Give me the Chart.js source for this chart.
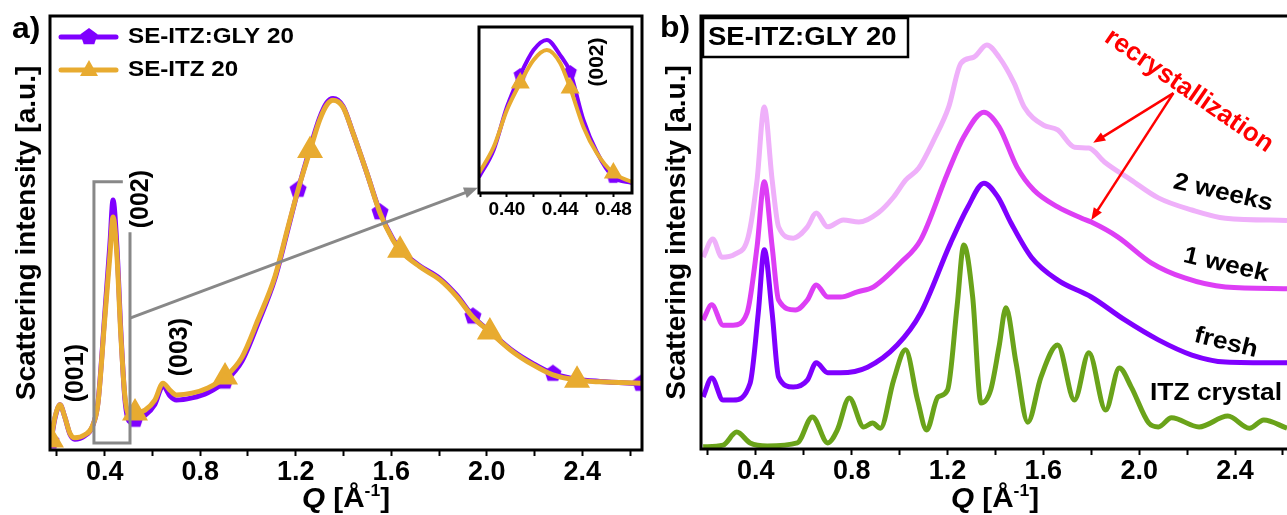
<!DOCTYPE html>
<html>
<head>
<meta charset="utf-8">
<script src="https://cdn.jsdelivr.net/npm/chart.js@4.4.1/dist/chart.umd.min.js"></script>
<style>
  body { margin: 0; background: #fff; }
  #wrap { position: relative; width: 1287px; height: 515px; overflow: hidden; background: #fff; }
  canvas { position: absolute; }
</style>
</head>
<body>
<div id="wrap">
  <canvas id="chartA" width="650" height="515" style="left:0;top:0"></canvas>
  <canvas id="chartB" width="637" height="515" style="left:650px;top:0"></canvas>
  <canvas id="inset" width="170" height="205" style="left:470px;top:20px"></canvas>
</div>
<script>
// ---- panel a: SE-ITZ:GLY 20 vs SE-ITZ 20 ----
const qA = [0.175, 0.192, 0.213, 0.233, 0.254, 0.275, 0.317, 0.347, 0.372, 0.40, 0.422, 0.435, 0.451, 0.468,
  0.485, 0.506, 0.527, 0.569, 0.61, 0.644, 0.673, 0.70, 0.765, 0.832, 0.904, 0.975, 1.042, 1.113, 1.168, 1.21,
  1.26, 1.30, 1.33, 1.356, 1.398, 1.44, 1.498, 1.553, 1.607, 1.637, 1.72, 1.804, 1.875, 1.942, 2.013, 2.11,
  2.194, 2.277, 2.378, 2.474, 2.645];
const itz20 = [2.3, 7.6, 10.4, 7.6, 3.9, 2.8, 3.5, 5.3, 10.8, 30, 45, 53.7, 45, 26,
  12.2, 8, 8.5, 9.2, 11.5, 15.4, 13.8, 12.7, 13.1, 14.3, 16.8, 21.4, 30, 40, 51.4, 60,
  69, 76, 79.5, 80.6, 79, 73, 63.8, 54.6, 48.4, 46, 42.2, 39.2, 35.3, 30.6, 27.2, 22.6,
  19.6, 17.3, 16.1, 15.7, 15.4];
const gly20 = [2.0, 7.4, 10.4, 7.6, 3.7, 2.5, 3.3, 5.2, 11, 31, 47.5, 57.6, 47, 27,
  11.5, 6.5, 7, 8, 10.5, 14.8, 12.5, 11.5, 12, 13.2, 15.8, 20.5, 29.2, 39.5, 51, 60,
  69.5, 76.5, 80, 81, 79.2, 73, 63.8, 54.8, 48.6, 46.2, 42.4, 39.5, 35.6, 30.8, 27.3, 22.8,
  19.9, 17.6, 16.3, 15.8, 15.3];
const glyMarks = [0, 16, 24, 29, 37, 43, 47, 50];
const itzMarks = [0, 16, 24, 30, 39, 44, 48];

// inset, (002) peak
const qInset = [0.379, 0.39, 0.40, 0.41, 0.42, 0.43, 0.44, 0.4475, 0.4575, 0.4675, 0.48, 0.494];
const itzInset = [12.0, 27.7, 50.0, 66.3, 80.1, 86.1, 78.3, 63.3, 39.8, 24.1, 12.0, 6.6];
const glyInset = [9.6, 25.9, 51.8, 71.1, 86.1, 92.2, 83.1, 72.9, 44.0, 24.7, 9.6, 6.0];
const insetMarks = [3, 7, 10];

// ---- panel b: SE-ITZ:GLY 20 ageing ----
const qCrystal = [0.18, 0.263, 0.32, 0.376, 0.447, 0.573, 0.636, 0.70, 0.74, 0.79, 0.85, 0.887, 0.92, 0.975,
  1.025, 1.075, 1.113, 1.16, 1.20, 1.24, 1.268, 1.305, 1.34, 1.38, 1.415, 1.444, 1.486, 1.535, 1.59, 1.66,
  1.73, 1.79, 1.86, 1.917, 1.967, 2.04, 2.08, 2.135, 2.25, 2.37, 2.46, 2.52, 2.617];
const crystal = [0.5, 0.9, 3.9, 1.4, 0.7, 1.4, 7.4, 1.4, 4.4, 11.8, 5.1, 6.0, 4.8, 15.9,
  22.9, 11.3, 4.4, 12.0, 13.6, 33, 47.1, 35.1, 10.6, 13.6, 23.6, 32.6, 19.9, 6.2, 16.6, 24.0,
  11.3, 22.2, 9.0, 18.7, 14.3, 6.0, 5.1, 7.2, 5.1, 7.6, 4.8, 6.7, 4.8];
const qFresh = [0.18, 0.216, 0.263, 0.305, 0.376, 0.41, 0.435, 0.468, 0.495, 0.556, 0.615, 0.652, 0.70, 0.753,
  0.866, 0.99, 1.088, 1.213, 1.285, 1.352, 1.41, 1.465, 1.55, 1.66, 1.80, 1.94, 2.08, 2.22, 2.36, 2.617];
const fresh = [12.0, 16.4, 11.3, 11.3, 15.2, 31.4, 46.0, 31.4, 16.6, 14.3, 15.9, 19.9, 17.6, 17.6,
  18.9, 24.0, 31.4, 47.6, 55.9, 61.4, 58.2, 52.2, 44.3, 39.0, 35.1, 29.8, 25.2, 21.7, 20.1, 19.9];
const qWeek1 = [0.18, 0.216, 0.263, 0.305, 0.363, 0.405, 0.435, 0.468, 0.495, 0.565, 0.615, 0.652, 0.70, 0.753,
  0.824, 0.89, 1.004, 1.088, 1.20, 1.268, 1.352, 1.415, 1.49, 1.56, 1.66, 1.76, 1.80, 1.91, 2.05, 2.19, 2.36, 2.617];
const week1 = [29.8, 33.3, 28.6, 28.6, 31.4, 46.7, 61.7, 46.7, 34.4, 32.1, 34.4, 37.9, 35.1, 35.1,
  36.3, 37.4, 43.0, 48.3, 63.7, 72.1, 77.8, 74.4, 65.1, 59.8, 55.9, 53.3, 52.4, 49.0, 43.0, 39.5, 37.4, 37.0];
const qWeek2 = [0.18, 0.22, 0.258, 0.313, 0.368, 0.405, 0.435, 0.468, 0.495, 0.556, 0.615, 0.652, 0.70, 0.765,
  0.83, 0.91, 0.975, 1.025, 1.08, 1.143, 1.205, 1.256, 1.31, 1.364, 1.415, 1.478, 1.52, 1.60, 1.66, 1.73,
  1.79, 1.855, 1.967, 2.08, 2.22, 2.36, 2.617];
const week2 = [44.3, 48.5, 44.3, 45.0, 49.0, 62.1, 79.0, 62.1, 51.3, 48.7, 51.3, 54.5, 51.3, 52.9,
  52.4, 54.5, 58.2, 62.1, 64.9, 71.4, 79.0, 89.1, 90.5, 93.3, 90.5, 84.5, 79.0, 74.8, 73.7, 69.7,
  69.5, 66.3, 62.1, 58.0, 55.2, 53.3, 52.8];

const majorQ = [0.4, 0.8, 1.2, 1.6, 2.0, 2.4];
const majorInset = [0.40, 0.44, 0.48];

const PURPLE = '#7f00ff', ORANGE = '#e8ab30';
const FONT = '"Liberation Sans", Arial, sans-serif';
Chart.defaults.font.family = FONT;
Chart.defaults.color = '#000';

function pentagon(color, r) {
  const c = document.createElement('canvas');
  c.width = c.height = 2 * r + 2;
  const g = c.getContext('2d');
  g.fillStyle = color;
  g.beginPath();
  for (let i = 0; i < 5; i++) {
    const a = -Math.PI / 2 + i * 2 * Math.PI / 5;
    g.lineTo(r + 1 + r * Math.cos(a), r + 1 + r * Math.sin(a));
  }
  g.closePath();
  g.fill();
  return c;
}
const pentBig = pentagon(PURPLE, 9), pentSmall = pentagon(PURPLE, 7);

const pts = (xs, ys) => xs.map((x, i) => ({ x, y: ys[i] }));

// text helper, sx stretches horizontally a little like the source image
function txt(ctx, s, x, y, size, o = {}) {
  ctx.save();
  ctx.translate(x, y);
  if (o.rot) ctx.rotate(o.rot * Math.PI / 180);
  ctx.scale(o.sx || 1, 1);
  ctx.font = (o.style || '') + ' bold ' + size + 'px ' + FONT;
  ctx.fillStyle = o.color || '#000';
  ctx.textAlign = o.align || 'left';
  ctx.textBaseline = o.base || 'middle';
  ctx.fillText(s, 0, 0);
  ctx.restore();
}

function arrow(ctx, x1, y1, x2, y2, color, w, head) {
  const a = Math.atan2(y2 - y1, x2 - x1);
  ctx.save();
  ctx.strokeStyle = color; ctx.fillStyle = color; ctx.lineWidth = w;
  ctx.beginPath();
  ctx.moveTo(x1, y1);
  ctx.lineTo(x2 - head * 0.7 * Math.cos(a), y2 - head * 0.7 * Math.sin(a));
  ctx.stroke();
  ctx.beginPath();
  ctx.moveTo(x2, y2);
  ctx.lineTo(x2 - head * Math.cos(a - 0.38), y2 - head * Math.sin(a - 0.38));
  ctx.lineTo(x2 - head * Math.cos(a + 0.38), y2 - head * Math.sin(a + 0.38));
  ctx.closePath();
  ctx.fill();
  ctx.restore();
}

// x axis title: Q [Å^-1]
function qTitle(ctx, cx, base) {
  const sx = 1.1;
  const parts = [['Q', 'italic bold 27px', 0], [' [Å', 'bold 27px', 0], ['-1', 'bold 16px', -11], [']', 'bold 27px', 0]];
  ctx.save();
  let total = 0;
  parts.forEach(p => { ctx.font = p[1] + ' ' + FONT; total += ctx.measureText(p[0]).width; });
  let x = cx - total * sx / 2;
  ctx.fillStyle = '#000';
  ctx.textBaseline = 'alphabetic';
  parts.forEach(p => {
    ctx.font = p[1] + ' ' + FONT;
    const w = ctx.measureText(p[0]).width;
    ctx.save(); ctx.translate(x, base + p[2]); ctx.scale(sx, 1); ctx.fillText(p[0], 0, 0); ctx.restore();
    x += w * sx;
  });
  ctx.restore();
}

function xAxis(min, max, step, majors, digits, size, tickLen, pad, height) {
  return {
    type: 'linear', min, max,
    ticks: {
      stepSize: step, includeBounds: false, autoSkip: false, maxRotation: 0, padding: pad, maxTicksLimit: 30,
      font: { size, weight: 'bold' }, color: '#000',
      callback: v => {
        const m = majors.find(t => Math.abs(t - v) < 1e-6);
        return m === undefined ? '' : m.toFixed(digits);
      }
    },
    grid: { drawOnChartArea: false, tickLength: tickLen, tickWidth: 2, tickColor: '#000' },
    border: { display: false },
    afterFit: s => { s.height = height; s.paddingLeft = 0; s.paddingRight = 0; }
  };
}

function yAxis(width, title, titlePad) {
  return {
    min: 0, max: 100,
    ticks: { display: false },
    grid: { display: false },
    border: { display: false },
    title: title ? { display: true, text: title, font: { size: 28, weight: 'bold' }, padding: { top: titlePad, bottom: 0 } } : { display: false },
    afterFit: s => { s.width = width; }
  };
}

const lineDs = (label, data, color, width, extra) => Object.assign({
  label, data, borderColor: color, backgroundColor: color, borderWidth: width,
  cubicInterpolationMode: 'monotone', pointRadius: 0, pointHoverRadius: 0
}, extra || {});

const common = {
  responsive: false, animation: false, devicePixelRatio: 1,
  plugins: { legend: { display: false }, tooltip: { enabled: false } }
};

// ---------- panel a ----------
const decorA = {
  id: 'decorA',
  afterDraw(chart) {
    const { ctx, chartArea: a, scales: { x, y } } = chart;
    ctx.save();
    // gray zoom box and arrow to the inset
    ctx.strokeStyle = '#888'; ctx.lineWidth = 3;
    ctx.beginPath();
    ctx.moveTo(x.getPixelForValue(0.476), y.getPixelForValue(61.8));
    ctx.lineTo(x.getPixelForValue(0.355), y.getPixelForValue(61.8));
    ctx.lineTo(x.getPixelForValue(0.355), y.getPixelForValue(1.6));
    ctx.lineTo(x.getPixelForValue(0.506), y.getPixelForValue(1.6));
    ctx.lineTo(x.getPixelForValue(0.506), y.getPixelForValue(50.2));
    ctx.stroke();
    arrow(ctx, x.getPixelForValue(0.506), y.getPixelForValue(30.4), x.getPixelForValue(1.963), y.getPixelForValue(60.4), '#888', 3, 15);
    // frame
    ctx.strokeStyle = '#000'; ctx.lineWidth = 3;
    ctx.strokeRect(a.left, a.top, a.right - a.left, a.bottom - a.top);
    // peak labels
    txt(ctx, '(001)', x.getPixelForValue(0.28), y.getPixelForValue(17.7), 25, { rot: -90, align: 'center' });
    txt(ctx, '(002)', x.getPixelForValue(0.552), y.getPixelForValue(57.8), 25, { rot: -90, align: 'center' });
    txt(ctx, '(003)', x.getPixelForValue(0.715), y.getPixelForValue(23.7), 25, { rot: -90, align: 'center' });
    // legend
    ctx.lineWidth = 5; ctx.lineCap = 'round';
    ctx.strokeStyle = PURPLE;
    ctx.beginPath(); ctx.moveTo(61, 37); ctx.lineTo(116, 37); ctx.stroke();
    ctx.drawImage(pentBig, 89 - pentBig.width / 2, 37 - pentBig.height / 2);
    ctx.strokeStyle = ORANGE;
    ctx.beginPath(); ctx.moveTo(61, 70); ctx.lineTo(116, 70); ctx.stroke();
    ctx.fillStyle = ORANGE;
    ctx.beginPath(); ctx.moveTo(89, 60); ctx.lineTo(98, 76); ctx.lineTo(80, 76); ctx.closePath(); ctx.fill();
    txt(ctx, 'SE-ITZ:GLY 20', 128, 37, 22, { sx: 1.1 });
    txt(ctx, 'SE-ITZ 20', 128, 70, 22, { sx: 1.1 });
    txt(ctx, 'a)', 12, 38, 29, { sx: 1.1, base: 'alphabetic' });
    qTitle(ctx, (a.left + a.right) / 2, 507);
    ctx.restore();
  }
};

new Chart(document.getElementById('chartA'), {
  type: 'line',
  data: {
    datasets: [
      lineDs('SE-ITZ 20', pts(qA, itz20), ORANGE, 5, {
        pointStyle: 'triangle', pointRadius: c => itzMarks.includes(c.dataIndex) ? 10 : 0
      }),
      lineDs('SE-ITZ:GLY 20', pts(qA, gly20), PURPLE, 5, {
        pointStyle: pentBig, pointRadius: c => glyMarks.includes(c.dataIndex) ? 9 : 0
      })
    ]
  },
  options: Object.assign({}, common, {
    layout: { padding: { left: 0, top: 16, right: 8, bottom: 0 }, autoPadding: false },
    scales: {
      x: xAxis(0.171, 2.65, 0.2, majorQ, 1, 27, 6, 0, 65),
      y: yAxis(50, 'Scattering intensity [a.u.]', 10)
    }
  }),
  plugins: [decorA]
});

// ---------- inset ----------
const decorInset = {
  id: 'decorInset',
  beforeDraw(chart) {
    const { ctx, chartArea: a } = chart;
    ctx.save(); ctx.fillStyle = '#fff';
    ctx.fillRect(a.left, a.top, a.right - a.left, a.bottom - a.top);
    ctx.restore();
  },
  afterDraw(chart) {
    const { ctx, chartArea: a, scales: { x, y } } = chart;
    ctx.save();
    ctx.strokeStyle = '#000'; ctx.lineWidth = 3;
    ctx.strokeRect(a.left, a.top, a.right - a.left, a.bottom - a.top);
    txt(ctx, '(002)', x.getPixelForValue(0.4675), y.getPixelForValue(78.9), 21, { rot: -90, align: 'center' });
    ctx.restore();
  }
};

new Chart(document.getElementById('inset'), {
  type: 'line',
  data: {
    datasets: [
      lineDs('SE-ITZ 20', pts(qInset, itzInset), ORANGE, 4, {
        pointStyle: 'triangle', pointRadius: c => insetMarks.includes(c.dataIndex) ? 7 : 0
      }),
      lineDs('SE-ITZ:GLY 20', pts(qInset, glyInset), PURPLE, 4, {
        pointStyle: pentSmall, pointRadius: c => insetMarks.includes(c.dataIndex) ? 7 : 0
      })
    ]
  },
  options: Object.assign({}, common, {
    layout: { padding: { left: 0, top: 7, right: 8, bottom: 0 }, autoPadding: false },
    scales: {
      x: xAxis(0.379, 0.494, 0.02, majorInset, 2, 19, 4, 1, 32),
      y: yAxis(9, null, 0)
    }
  }),
  plugins: [decorInset]
});

// ---------- panel b ----------
const decorB = {
  id: 'decorB',
  afterDraw(chart) {
    const { ctx, chartArea: a, scales: { x, y } } = chart;
    ctx.save();
    // frame: left, top, bottom (right side is cut off)
    ctx.strokeStyle = '#000'; ctx.lineWidth = 3;
    ctx.beginPath();
    ctx.moveTo(chart.width, a.top); ctx.lineTo(a.left, a.top); ctx.lineTo(a.left, a.bottom); ctx.lineTo(chart.width, a.bottom);
    ctx.stroke();
    // recrystallization arrows
    const sx0 = x.getPixelForValue(2.143), sy0 = y.getPixelForValue(82.2);
    arrow(ctx, sx0, sy0, x.getPixelForValue(1.808), y.getPixelForValue(70.7), '#ff0000', 2.5, 13);
    arrow(ctx, sx0, sy0, x.getPixelForValue(1.80), y.getPixelForValue(52.9), '#ff0000', 2.5, 13);
    // texts in page coordinates
    ctx.translate(-650, 0);
    ctx.fillStyle = '#fff';
    ctx.fillRect(703, 18, 205, 39);
    ctx.lineWidth = 2.5; ctx.strokeStyle = '#000';
    ctx.strokeRect(703, 18, 205, 39);
    txt(ctx, 'SE-ITZ:GLY 20', 708, 38, 25, { sx: 1.1 });
    txt(ctx, 'b)', 660, 37, 29, { sx: 1.1, base: 'alphabetic' });
    txt(ctx, 'recrystallization', 1189, 91, 26, { rot: 34.5, align: 'center', color: '#ff0000' });
    txt(ctx, '2 weeks', 1223, 193, 24, { rot: 13, align: 'center', sx: 1.1 });
    txt(ctx, '1 week', 1226, 265, 24, { rot: 13, align: 'center', sx: 1.1 });
    txt(ctx, 'fresh', 1226, 343, 24, { rot: 14, align: 'center', sx: 1.1 });
    txt(ctx, 'ITZ crystal', 1150, 393, 24, { sx: 1.1 });
    ctx.restore();
    qTitle(ctx, 995 - 650, 507);
  }
};

new Chart(document.getElementById('chartB'), {
  type: 'line',
  data: {
    datasets: [
      lineDs('ITZ crystal', pts(qCrystal, crystal), '#6aa31a', 5),
      lineDs('fresh', pts(qFresh, fresh), PURPLE, 5),
      lineDs('1 week', pts(qWeek1, week1), '#dd3ef5', 5),
      lineDs('2 weeks', pts(qWeek2, week2), '#efb0fa', 5)
    ]
  },
  options: Object.assign({}, common, {
    layout: { padding: { left: 0, top: 16, right: 0, bottom: 0 }, autoPadding: false },
    scales: {
      x: xAxis(0.171, 2.617, 0.2, majorQ, 1, 27, 6, 0, 66),
      y: yAxis(51, 'Scattering intensity [a.u.]', 10)
    }
  }),
  plugins: [decorB]
});
</script>
</body>
</html>
